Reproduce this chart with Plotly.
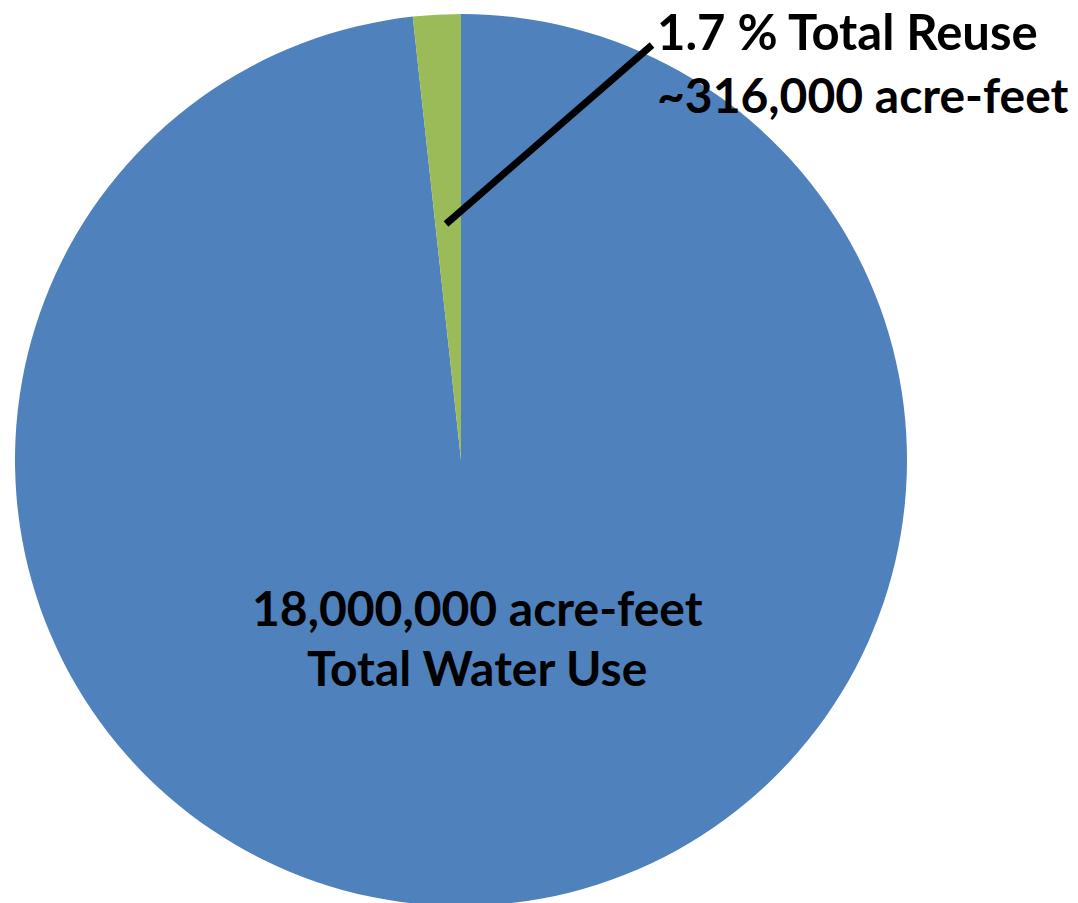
import plotly.graph_objects as go

labels = ["Total Water Use", "Total Reuse"]
values = [18000000, 316000]
colors = ["#4F81BD", "#9BBB59"]

W, H = 1078, 903
FONT = "Lato"
OFF = 8  # page body margin

fig = go.Figure(go.Pie(
    labels=labels, values=values, sort=False, direction="clockwise",
    rotation=0, marker=dict(colors=colors, line=dict(width=0)),
    textinfo="none", hoverinfo="label+value", showlegend=False,
    domain=dict(x=[(15 - OFF)/W, (907 - OFF)/W], y=[1 - (906 - OFF)/H, 1 - (14 - OFF)/H]),
))

def px(x): return (x - OFF) / W
def py(y): return 1 - (y - OFF) / H

ann = [
    ("1.7 % Total Reuse", 655, 31, "left", 49),
    ("~316,000 acre-feet", 655, 94, "left", 48),
    ("18,000,000 acre-feet", 477, 607, "center", 48),
    ("Total Water Use", 477, 667, "center", 48),
]
for t, x, y, a, s in ann:
    fig.add_annotation(text="<b>%s</b>" % t, x=px(x), y=py(y), xref="paper", yref="paper",
                       xanchor=a, yanchor="middle", showarrow=False,
                       font=dict(family=FONT, size=s, color="black"))

fig.add_shape(type="line", xref="paper", yref="paper",
              x0=px(446), y0=py(224), x1=px(652), y1=py(45),
              line=dict(color="black", width=7))

fig.update_layout(width=W, height=H, margin=dict(l=0, r=0, t=0, b=0),
                  paper_bgcolor="white", plot_bgcolor="white")
fig.write_html("out.html")
